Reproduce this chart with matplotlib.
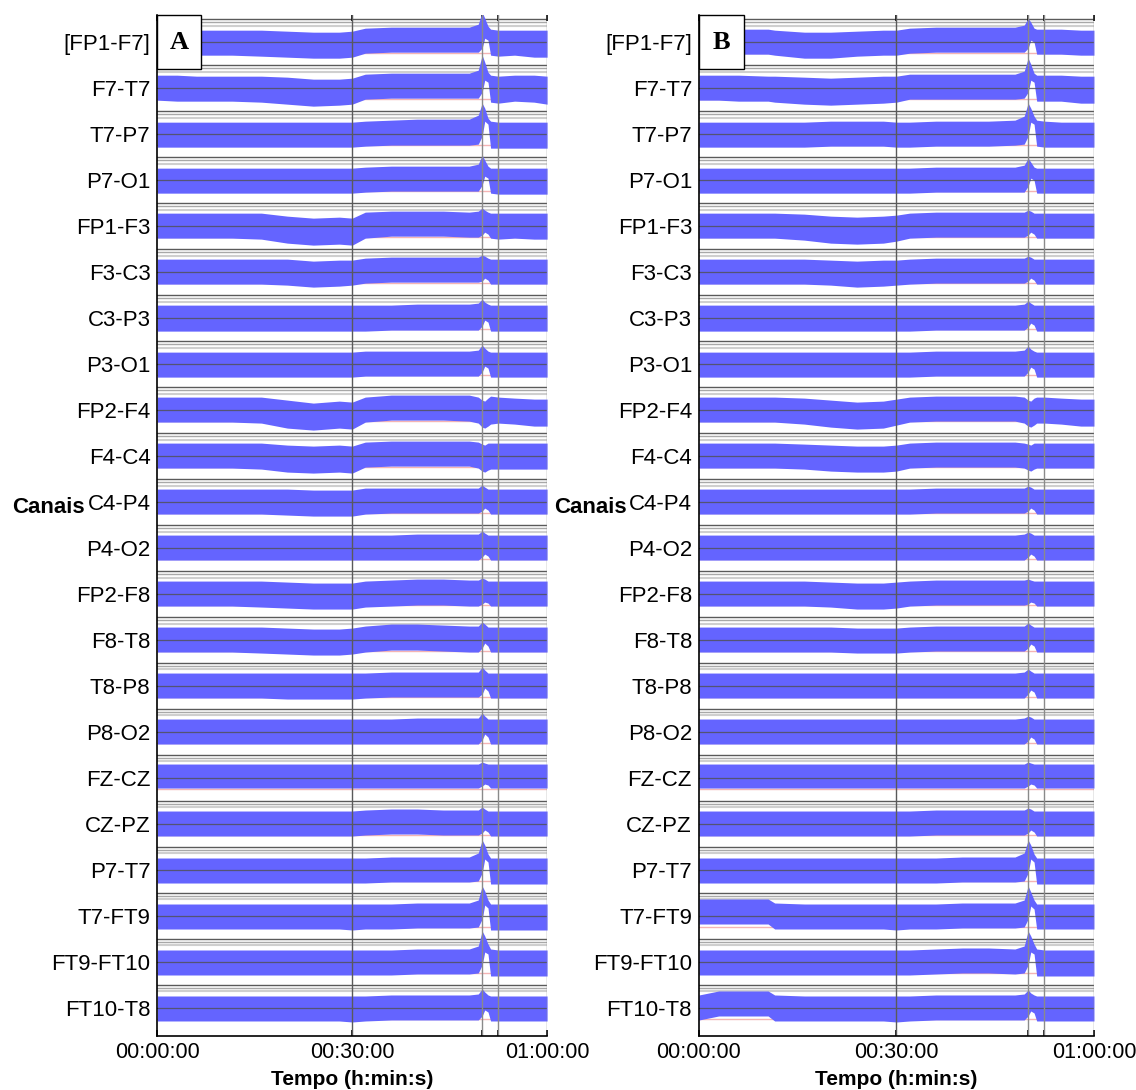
import numpy as np
import matplotlib
matplotlib.use('Agg')
import matplotlib.pyplot as plt
from matplotlib.patches import Rectangle

plt.rcParams['font.family'] = ['Liberation Sans', 'DejaVu Sans']

# Canais (de cima para baixo)
canais = ['[FP1-F7]', 'F7-T7', 'T7-P7', 'P7-O1', 'FP1-F3', 'F3-C3', 'C3-P3', 'P3-O1',
          'FP2-F4', 'F4-C4', 'C4-P4', 'P4-O2', 'FP2-F8', 'F8-T8', 'T8-P8', 'P8-O2',
          'FZ-CZ', 'CZ-PZ', 'P7-T7', 'T7-FT9', 'FT9-FT10', 'FT10-T8']

# Tempo (minutos) dos pontos do envelope
t_min = [0, 3, 6, 10.5, 11.5, 16, 20, 24, 28, 30, 32, 36, 40, 44, 48,
         49.4, 50.0, 50.4, 50.9, 51.3, 52.5, 55, 58, 60]

marcas_t = [0, 30, 50.0, 52.4, 60]
rotulos_t = ['00:00:00', '00:30:00', '', '', '01:00:00']

escala = 46  # unidades de amplitude por canal

# Painel A: envelope superior / inferior de cada canal
sup_A = [
    [12,12,12,12,12,12,11,10,10,11,14,15,15,15,15,18,30,24,16,13,12,12,12,12],
    [13,13,12,12,12,12,11,9,9,10,14,15,15,15,15,18,33,26,16,13,12,13,13,12],
    [12,12,12,12,12,12,12,12,12,12,13,14,15,15,15,19,31,26,16,13,12,12,12,12],
    [12,12,12,12,12,12,12,12,12,12,13,14,14,14,14,16,25,20,14,12,12,12,12,12],
    [13,13,13,13,13,13,10,8,9,8,14,15,15,15,14,15,18,16,14,13,13,13,13,13],
    [13,13,13,13,13,13,13,11,12,12,14,15,15,15,15,15,17,16,14,13,13,13,13,13],
    [13,13,13,13,13,13,13,13,13,13,13,13,14,14,14,15,19,16,14,13,13,13,13,13],
    [12,12,12,12,12,12,12,12,12,12,13,13,13,13,13,14,19,16,13,12,12,12,12,12],
    [13,13,13,13,13,13,10,7,9,8,13,15,15,15,15,13,10,9,12,14,13,12,11,11],
    [13,13,13,13,13,13,11,10,11,10,14,15,15,15,15,14,12,11,13,13,13,13,13,13],
    [13,13,13,13,13,13,13,12,12,12,14,14,14,14,14,14,17,15,13,13,13,13,13,13],
    [13,13,13,13,13,13,13,13,13,13,13,13,14,14,14,14,17,15,13,13,13,13,13,13],
    [13,13,13,13,13,13,12,11,11,11,13,14,15,15,14,14,16,15,13,13,13,13,13,13],
    [13,13,13,13,13,13,12,11,11,12,14,16,16,15,14,14,18,16,13,13,13,13,13,13],
    [13,13,13,13,13,13,13,13,13,13,13,14,14,14,14,14,19,16,13,13,13,13,13,13],
    [13,13,13,13,13,13,13,13,13,13,13,13,14,14,14,14,19,16,13,13,13,13,13,13],
    [14,14,14,14,14,14,14,14,14,14,14,14,14,14,14,14,16,15,14,14,14,14,14,14],
    [13,13,13,13,13,13,13,13,13,13,14,15,15,14,14,14,17,15,13,13,13,13,13,13],
    [12,12,12,12,12,12,12,12,12,12,12,13,13,13,13,17,30,25,16,12,12,12,12,12],
    [12,12,12,12,12,12,12,12,12,12,12,12,13,13,13,16,30,25,16,12,12,12,12,12],
    [12,12,12,12,12,12,12,12,12,12,12,12,13,13,13,16,31,26,18,13,12,12,12,12],
    [12,12,12,12,12,12,12,12,12,12,12,13,13,13,13,14,19,16,13,12,12,12,12,12],
]
inf_A = [
    [-12,-13,-13,-13,-13,-14,-15,-16,-16,-15,-11,-10,-10,-10,-10,-10,-6,4,2,-13,-14,-13,-15,-15],
    [-12,-13,-13,-13,-13,-14,-16,-18,-17,-16,-11,-10,-10,-10,-10,-10,-4,8,6,-14,-15,-13,-14,-16],
    [-13,-13,-13,-13,-13,-13,-13,-13,-13,-13,-12,-11,-11,-11,-11,-10,-2,13,10,-14,-14,-14,-14,-14],
    [-13,-13,-13,-13,-13,-13,-13,-13,-13,-13,-12,-11,-11,-11,-11,-11,-5,4,2,-13,-14,-14,-14,-14],
    [-12,-12,-12,-12,-12,-13,-17,-19,-18,-19,-12,-10,-10,-10,-11,-11,-9,-6,-8,-12,-13,-12,-13,-13],
    [-12,-12,-12,-12,-12,-12,-13,-15,-14,-13,-11,-10,-10,-10,-10,-10,-9,-6,-8,-12,-12,-12,-12,-12],
    [-13,-13,-13,-13,-13,-13,-13,-13,-13,-13,-13,-12,-12,-12,-12,-12,-8,-2,-4,-13,-13,-13,-13,-13],
    [-13,-13,-13,-13,-13,-13,-13,-13,-13,-13,-12,-12,-12,-12,-12,-12,-8,-2,-4,-13,-13,-13,-13,-13],
    [-12,-12,-12,-12,-12,-13,-18,-20,-18,-19,-12,-10,-10,-10,-11,-13,-17,-18,-16,-14,-13,-14,-16,-16],
    [-12,-12,-12,-12,-12,-13,-16,-17,-16,-17,-11,-10,-10,-10,-10,-12,-15,-16,-14,-13,-13,-13,-13,-13],
    [-12,-12,-12,-12,-12,-12,-13,-14,-14,-14,-12,-11,-11,-11,-11,-11,-9,-6,-8,-12,-12,-12,-12,-12],
    [-12,-12,-12,-12,-12,-12,-12,-12,-12,-12,-12,-12,-12,-12,-12,-12,-9,-6,-8,-12,-12,-12,-12,-12],
    [-12,-12,-12,-12,-12,-13,-14,-15,-15,-15,-13,-12,-11,-11,-12,-12,-10,-8,-9,-12,-12,-12,-12,-12],
    [-12,-12,-12,-12,-12,-13,-14,-15,-15,-14,-12,-10,-10,-11,-12,-12,-8,-3,-6,-12,-12,-12,-12,-12],
    [-12,-12,-12,-12,-12,-12,-13,-13,-13,-13,-12,-11,-11,-11,-11,-11,-8,-2,-5,-12,-12,-12,-12,-12],
    [-12,-12,-12,-12,-12,-12,-12,-12,-12,-12,-12,-12,-12,-12,-12,-12,-8,-2,-5,-12,-12,-12,-12,-12],
    [-10,-10,-10,-10,-10,-10,-10,-10,-10,-10,-10,-10,-10,-10,-10,-10,-8,-6,-7,-10,-10,-10,-10,-10],
    [-12,-12,-12,-12,-12,-12,-12,-12,-12,-12,-11,-10,-10,-11,-11,-11,-9,-6,-8,-12,-12,-12,-12,-12],
    [-13,-13,-13,-13,-13,-13,-13,-13,-13,-13,-13,-12,-12,-12,-12,-11,-3,11,8,-14,-14,-14,-14,-14],
    [-13,-13,-13,-13,-13,-13,-13,-13,-13,-14,-13,-13,-12,-12,-12,-11,-3,11,8,-14,-14,-14,-14,-14],
    [-13,-13,-13,-13,-13,-13,-13,-13,-13,-13,-13,-13,-12,-12,-12,-11,-3,10,8,-14,-14,-14,-14,-14],
    [-13,-13,-13,-13,-13,-13,-13,-13,-13,-14,-13,-12,-12,-12,-12,-12,-8,-2,-4,-13,-13,-13,-13,-13],
]

# Painel B
sup_B = [
    [13,13,13,13,12,10,10,11,12,12,14,15,15,15,15,17,24,20,14,13,13,13,12,12],
    [13,13,13,12,12,11,10,11,12,12,14,14,14,14,14,17,30,24,15,13,13,13,12,12],
    [12,12,12,12,12,12,13,13,13,12,12,13,13,13,14,18,31,26,18,14,13,12,12,12],
    [12,12,12,12,12,12,12,12,12,12,12,13,13,13,13,15,22,18,13,12,12,12,12,12],
    [13,13,13,13,13,12,10,9,10,11,13,14,14,14,14,14,16,15,13,13,13,13,13,13],
    [13,13,13,13,13,13,12,11,12,12,13,14,14,14,14,14,16,15,13,13,13,13,13,13],
    [13,13,13,13,13,13,13,13,13,13,13,13,13,13,13,14,17,15,13,13,13,13,13,13],
    [12,12,12,12,12,12,12,12,12,12,12,13,13,13,13,14,18,15,13,12,12,12,12,12],
    [13,13,13,13,13,12,10,8,9,11,13,14,14,14,14,13,10,9,12,13,13,12,11,11],
    [13,13,13,13,13,12,11,10,10,11,13,14,14,14,14,13,12,11,13,13,13,13,13,13],
    [13,13,13,13,13,13,13,13,13,13,13,14,14,14,14,14,16,15,13,13,13,13,13,13],
    [13,13,13,13,13,13,13,13,13,13,13,13,13,13,13,14,16,15,13,13,13,13,13,13],
    [13,13,13,13,13,13,12,11,11,12,13,14,14,14,14,14,15,14,13,13,13,13,13,13],
    [13,13,13,13,13,13,13,12,12,12,13,14,14,14,14,14,17,15,13,13,13,13,13,13],
    [13,13,13,13,13,13,13,13,13,13,13,13,13,13,13,14,17,15,13,13,13,13,13,13],
    [13,13,13,13,13,13,13,13,13,13,13,13,13,13,13,14,16,15,13,13,13,13,13,13],
    [14,14,14,14,14,14,14,14,14,14,14,14,14,14,14,14,16,15,14,14,14,14,14,14],
    [13,13,13,13,13,13,13,13,13,13,13,14,14,14,14,14,16,15,13,13,13,13,13,13],
    [12,12,12,12,12,12,12,12,12,12,12,12,13,13,13,17,30,25,16,12,12,12,12,12],
    [17,17,17,17,13,12,12,12,12,12,12,12,13,13,13,16,30,24,16,12,12,12,12,12],
    [12,12,12,12,12,12,12,12,12,12,12,13,14,14,13,16,31,26,18,13,12,12,12,12],
    [13,17,17,17,13,12,12,12,12,12,12,13,13,13,13,14,18,15,13,12,12,12,12,12],
]
inf_B = [
    [-12,-12,-12,-12,-13,-16,-16,-14,-13,-13,-11,-10,-10,-10,-10,-10,-6,2,0,-12,-12,-12,-13,-13],
    [-12,-12,-13,-13,-14,-16,-17,-16,-15,-14,-11,-11,-11,-11,-11,-10,-4,8,6,-13,-13,-13,-15,-15],
    [-13,-13,-13,-13,-13,-13,-12,-12,-12,-13,-13,-12,-12,-12,-11,-10,-2,12,10,-12,-13,-13,-13,-13],
    [-13,-13,-13,-13,-13,-13,-13,-13,-13,-13,-13,-12,-12,-12,-12,-12,-6,2,0,-13,-13,-13,-13,-13],
    [-12,-12,-12,-12,-12,-14,-17,-18,-17,-15,-12,-11,-11,-11,-11,-11,-9,-6,-8,-12,-12,-12,-12,-12],
    [-12,-12,-12,-12,-12,-12,-13,-15,-14,-13,-12,-11,-11,-11,-11,-11,-9,-6,-8,-12,-12,-12,-12,-12],
    [-13,-13,-13,-13,-13,-13,-13,-13,-13,-13,-13,-12,-12,-12,-12,-12,-9,-5,-7,-13,-13,-13,-13,-13],
    [-13,-13,-13,-13,-13,-13,-13,-13,-13,-13,-13,-12,-12,-12,-12,-12,-8,-3,-5,-13,-13,-13,-13,-13],
    [-12,-12,-12,-12,-12,-14,-17,-19,-18,-15,-12,-11,-11,-11,-11,-13,-16,-17,-15,-13,-13,-14,-16,-16],
    [-12,-12,-12,-12,-12,-13,-15,-16,-16,-15,-12,-11,-11,-11,-11,-12,-14,-15,-13,-12,-12,-12,-12,-12],
    [-12,-12,-12,-12,-12,-12,-12,-12,-12,-12,-12,-11,-11,-11,-11,-11,-9,-6,-8,-12,-12,-12,-12,-12],
    [-12,-12,-12,-12,-12,-12,-12,-12,-12,-12,-12,-12,-12,-12,-12,-12,-9,-6,-8,-12,-12,-12,-12,-12],
    [-12,-12,-12,-12,-12,-12,-13,-15,-15,-14,-12,-11,-11,-11,-11,-11,-10,-8,-9,-12,-12,-12,-12,-12],
    [-12,-12,-12,-12,-12,-12,-12,-13,-13,-13,-12,-11,-11,-11,-11,-11,-8,-4,-6,-12,-12,-12,-12,-12],
    [-12,-12,-12,-12,-12,-12,-12,-12,-12,-12,-12,-12,-12,-12,-12,-12,-8,-4,-6,-12,-12,-12,-12,-12],
    [-12,-12,-12,-12,-12,-12,-12,-12,-12,-12,-12,-12,-12,-12,-12,-12,-9,-5,-7,-12,-12,-12,-12,-12],
    [-10,-10,-10,-10,-10,-10,-10,-10,-10,-10,-10,-10,-10,-10,-10,-10,-8,-6,-7,-10,-10,-10,-10,-10],
    [-12,-12,-12,-12,-12,-12,-12,-12,-12,-12,-12,-11,-11,-11,-11,-11,-9,-6,-8,-12,-12,-12,-12,-12],
    [-13,-13,-13,-13,-13,-13,-13,-13,-13,-13,-13,-13,-12,-12,-12,-11,-3,11,8,-14,-14,-14,-14,-14],
    [-8,-8,-8,-8,-13,-13,-13,-13,-13,-14,-13,-13,-12,-12,-12,-11,-3,10,7,-13,-13,-13,-13,-13],
    [-13,-13,-13,-13,-13,-13,-13,-13,-13,-13,-13,-12,-11,-11,-12,-11,-3,10,8,-14,-14,-14,-14,-14],
    [-12,-8,-8,-8,-13,-13,-13,-13,-13,-14,-13,-12,-12,-12,-12,-12,-8,-3,-5,-13,-13,-13,-13,-13],
]

# linhas horizontais de cada canal: (deslocamento, cor, espessura, zorder)
grade_h = [(0.50, '#5a5a5a', 1.0, 1),
           (0.43, '#a8a8a8', 1.0, 1),
           (0.36, '#cfcfcf', 1.5, 1),
           (-0.24, '#f4b4b4', 1.0, 1),
           (0.00, '#505050', 0.9, 3)]


def desenha(ax, sup, inf, letra):
    n = len(canais)
    centros = np.arange(n)[::-1]
    t = np.array(t_min)
    for c, u, l in zip(centros, sup, inf):
        for off, cor, lw, z in grade_h:
            ax.axhline(c + off, color=cor, lw=lw, zorder=z, alpha=0.8 if z == 3 else 1)
        ax.fill_between(t, c + np.array(u) / escala, c + np.array(l) / escala,
                        color='#6464ff', lw=0, zorder=2)
    for x in marcas_t[1:]:
        ax.axvline(x, color='#5a5a5a' if x == 30 else '#8a8a8a', lw=1, zorder=4)

    ax.set_xlim(0, 60)
    ax.set_ylim(-0.61, n - 1 + 0.59)
    ax.set_xticks(marcas_t)
    ax.set_xticklabels(rotulos_t, fontsize=15.5)
    ax.set_yticks(centros)
    ax.set_yticklabels(canais, fontsize=16)
    ax.tick_params(axis='x', direction='in', top=True, length=4, pad=4, width=1.2)
    ax.tick_params(axis='y', direction='in', length=4, pad=5)
    for s in ['top', 'right']:
        ax.spines[s].set_visible(False)
    for s in ['left', 'bottom']:
        ax.spines[s].set_linewidth(1.2)
        ax.spines[s].set_zorder(6)

    ax.add_patch(Rectangle((0, 1), 0.113, -0.053, transform=ax.transAxes,
                           facecolor='white', edgecolor='black', lw=1, zorder=7,
                           clip_on=False))
    ax.text(0.0565, 1 - 0.0265, letra, transform=ax.transAxes, ha='center', va='center',
            fontsize=19, fontweight='bold', family='Liberation Serif', zorder=8)


fig = plt.figure(figsize=(11.36, 10.9), dpi=100)
axA = fig.add_axes([0.1386, 0.0495, 0.3430, 0.9367])
axB = fig.add_axes([0.6153, 0.0495, 0.3477, 0.9367])

desenha(axA, sup_A, inf_A, 'A')
desenha(axB, sup_B, inf_B, 'B')

# rótulos dos eixos
for xc, xl in [(0.0748, 0.31), (0.552, 0.789)]:
    fig.text(xc, 0.534, 'Canais', fontsize=16, fontweight='bold', ha='right', va='center')
    fig.text(xl, 0.010, 'Tempo (h:min:s)', fontsize=15, fontweight='bold',
             ha='center', va='center')

fig.savefig('out.png', dpi=100)
